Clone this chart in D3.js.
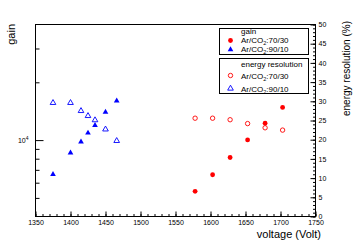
<!DOCTYPE html>
<html>
<head>
<meta charset="utf-8">
<script src="https://cdn.jsdelivr.net/npm/d3@7"></script>
<style>
  body { margin: 0; background: #fff; }
  svg { display: block; font-family: "Liberation Sans", Arial, sans-serif; }
</style>
</head>
<body>
<svg id="chart" width="355" height="242"></svg>
<script>
// values
var volt_7030 = [1578, 1603, 1628, 1653, 1678, 1703],
    gain_7030 = [5410, 6600, 8115, 10020, 12240, 14800],
    res_7030  = [25.6, 25.6, 25.2, 24.2, 23.1, 22.5],

    volt_9010 = [1375, 1400, 1415, 1425, 1435, 1450, 1466],
    gain_9010 = [6640, 8590, 9790, 10900, 11950, 14000, 16000],
    res_9010  = [29.6, 29.6, 27.5, 26.2, 25.1, 22.7, 19.7],

    x_ticks   = [1350, 1400, 1450, 1500, 1550, 1600, 1650, 1700, 1750],
    res_ticks = [0, 5, 10, 15, 20, 25, 30, 35, 40, 45, 50],
    gain_minor = [5000, 6000, 7000, 8000, 9000, 20000, 30000];

// plot frame (window.top is reserved, so use frame_* names)
var frame_l = 35.5, frame_r = 315.5, frame_t = 24.5, frame_b = 216.5;

var svg = d3.select("#chart"),
    xScale = d3.scaleLinear().domain([1350, 1750]).range([frame_l, frame_r]),
    gScale = d3.scaleLog().domain([4000, 40000]).range([frame_b, frame_t]),
    rScale = d3.scaleLinear().domain([0, 50]).range([frame_b, frame_t])
;

svg.append("rect")
    .attr("x", frame_l).attr("y", frame_t)
    .attr("width", frame_r - frame_l).attr("height", frame_b - frame_t)
    .attr("fill", "none").attr("stroke", "#000");

// bottom axis
svg.append("g")
    .attr("transform", "translate(0," + frame_b + ")")
    .call(d3.axisBottom(xScale).tickValues(d3.range(1350, 1751, 10)).tickFormat("").tickSize(-2.5))
    .call(g => g.select(".domain").remove());
svg.append("g")
    .attr("transform", "translate(0," + frame_b + ")")
    .call(d3.axisBottom(xScale).tickValues(x_ticks).tickSize(-5).tickPadding(4).tickFormat(d3.format("d")))
    .call(g => g.select(".domain").remove())
    .call(g => g.selectAll("text").attr("font-size", 7).attr("fill", "#000"));

// left (gain) axis, log
svg.append("g")
    .attr("transform", "translate(" + frame_l + ",0)")
    .call(d3.axisLeft(gScale).tickValues(gain_minor).tickFormat("").tickSize(-4))
    .call(g => g.select(".domain").remove());
svg.append("g")
    .attr("transform", "translate(" + frame_l + ",0)")
    .call(d3.axisLeft(gScale).tickValues([10000]).tickSize(-8).tickPadding(7).tickFormat(""))
    .call(g => g.select(".domain").remove())
    .call(g => {
        var t = g.selectAll("text").attr("font-size", 7).attr("fill", "#000").text("10");
        t.append("tspan").attr("dy", -3).attr("font-size", 5).text("4");
    });

// right (energy resolution) axis
svg.append("g")
    .attr("transform", "translate(" + frame_r + ",0)")
    .call(d3.axisRight(rScale).tickValues(d3.range(0, 51, 1)).tickFormat("").tickSize(-2.5))
    .call(g => g.select(".domain").remove());
svg.append("g")
    .attr("transform", "translate(" + frame_r + ",0)")
    .call(d3.axisRight(rScale).tickValues(res_ticks).tickSize(-5).tickPadding(3))
    .call(g => g.select(".domain").remove())
    .call(g => g.selectAll("text").attr("font-size", 7).attr("fill", "#000"));

// axis titles
svg.append("text")
    .attr("x", 321).attr("y", 238)
    .attr("text-anchor", "end").attr("font-size", 11)
    .text("voltage (Volt)");
svg.append("text")
    .attr("transform", "translate(15,24) rotate(-90)")
    .attr("text-anchor", "end").attr("font-size", 11)
    .text("gain");
svg.append("text")
    .attr("transform", "translate(350,21) rotate(-90)")
    .attr("text-anchor", "end").attr("font-size", 10)
    .text("energy resolution (%)");

// markers
var tri = d3.symbol().type(d3.symbolTriangle).size(14);

function points(volts, vals, scale) {
    return volts.map((v, i) => [xScale(v), scale(vals[i])]);
}

svg.append("g").selectAll("circle")
    .data(points(volt_7030, res_7030, rScale))
    .enter().append("circle")
    .attr("cx", d => d[0]).attr("cy", d => d[1]).attr("r", 2.2)
    .attr("fill", "none").attr("stroke", "#ff0000").attr("stroke-width", 0.9);

svg.append("g").selectAll("path")
    .data(points(volt_9010, res_9010, rScale))
    .enter().append("path")
    .attr("d", tri)
    .attr("transform", d => "translate(" + d[0] + "," + d[1] + ")")
    .attr("fill", "none").attr("stroke", "#0000ff").attr("stroke-width", 0.9);

svg.append("g").selectAll("circle")
    .data(points(volt_7030, gain_7030, gScale))
    .enter().append("circle")
    .attr("cx", d => d[0]).attr("cy", d => d[1]).attr("r", 2.4)
    .attr("fill", "#ff0000");

svg.append("g").selectAll("path")
    .data(points(volt_9010, gain_9010, gScale))
    .enter().append("path")
    .attr("d", tri)
    .attr("transform", d => "translate(" + d[0] + "," + d[1] + ")")
    .attr("fill", "#0000ff");

// legends
function label(g, x, y, mix) {
    var t = g.append("text").attr("x", x).attr("y", y).attr("font-size", 8).text("Ar/CO");
    t.append("tspan").attr("dy", 2).attr("font-size", 5.5).text("2");
    t.append("tspan").attr("dy", -2).text(":" + mix);
}

var leg1 = svg.append("g");
leg1.append("rect").attr("x", 219.5).attr("y", 28.5).attr("width", 89).attr("height", 26)
    .attr("fill", "#fff").attr("stroke", "#000");
leg1.append("text").attr("x", 241).attr("y", 34).attr("font-size", 8).text("gain");
leg1.append("circle").attr("cx", 230.5).attr("cy", 40.5).attr("r", 2.4).attr("fill", "#ff0000");
label(leg1, 241, 43, "70/30");
leg1.append("path").attr("d", tri).attr("transform", "translate(230.5,49.5)").attr("fill", "#0000ff");
label(leg1, 241, 52, "90/10");

var leg2 = svg.append("g");
leg2.append("rect").attr("x", 219.5).attr("y", 58.5).attr("width", 89).attr("height", 35)
    .attr("fill", "#fff").attr("stroke", "#000");
leg2.append("text").attr("x", 241).attr("y", 67).attr("font-size", 8).text("energy resolution");
leg2.append("circle").attr("cx", 230.5).attr("cy", 75.5).attr("r", 2.2)
    .attr("fill", "none").attr("stroke", "#ff0000").attr("stroke-width", 0.9);
label(leg2, 241, 78.5, "70/30");
leg2.append("path").attr("d", tri).attr("transform", "translate(230.5,88.5)")
    .attr("fill", "none").attr("stroke", "#0000ff").attr("stroke-width", 0.9);
label(leg2, 241, 91.5, "90/10");
</script>
</body>
</html>
